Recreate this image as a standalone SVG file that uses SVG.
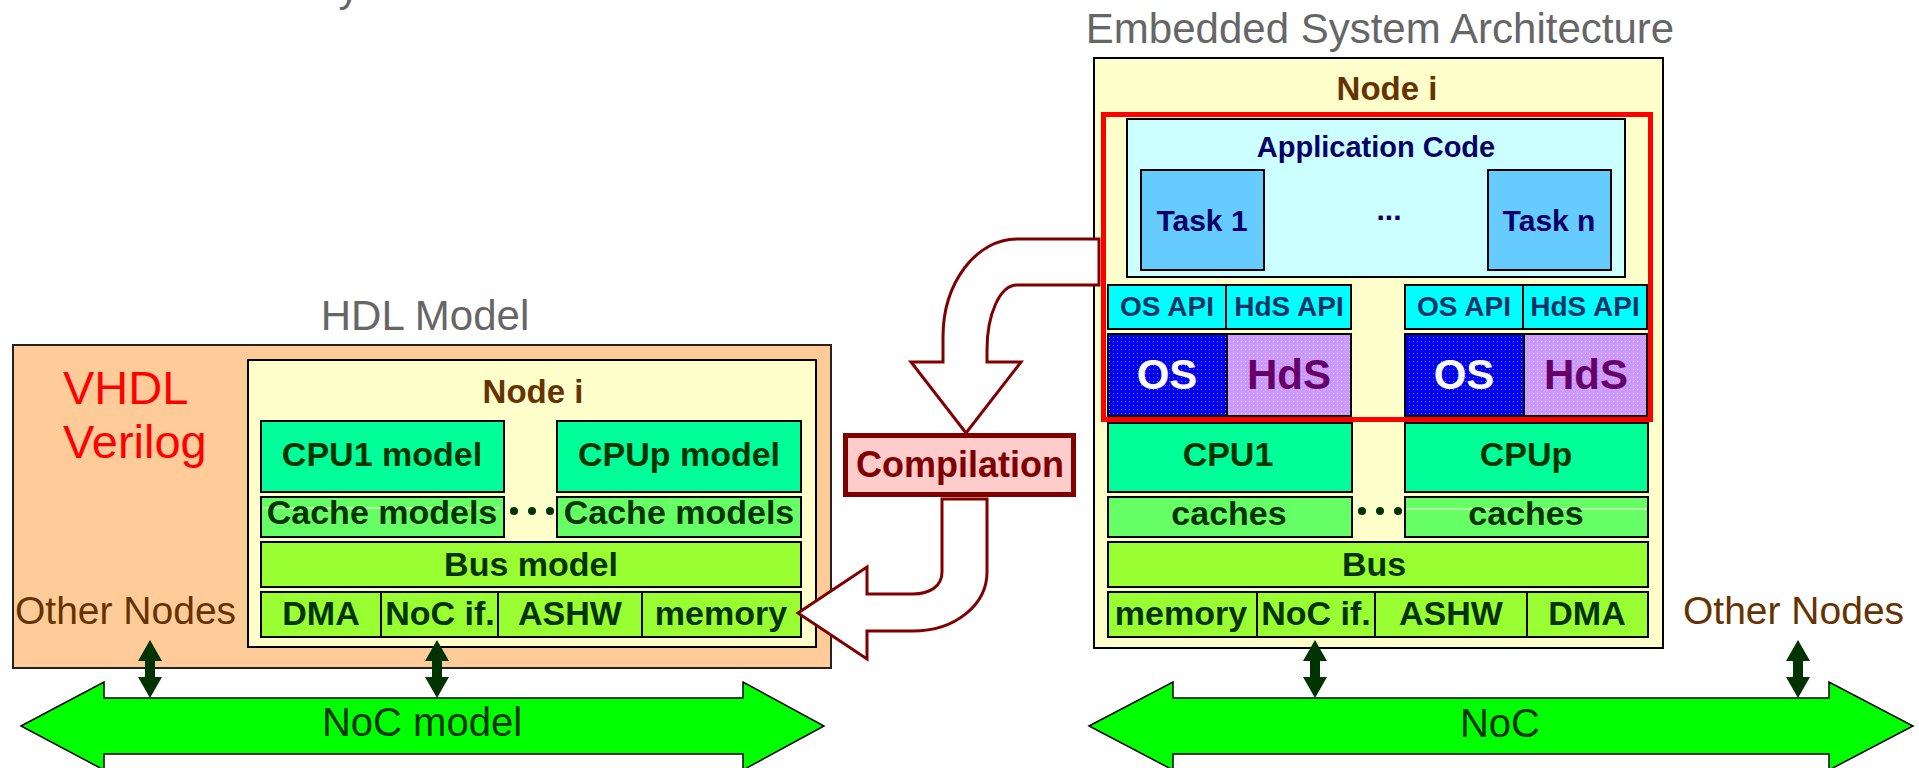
<svg xmlns="http://www.w3.org/2000/svg" width="1919" height="768" viewBox="0 0 1919 768">
  <defs>
    <pattern id="dotBlue" width="4" height="4" patternUnits="userSpaceOnUse">
      <rect width="4" height="4" fill="#0000f0"/>
      <rect x="1" y="1" width="1" height="1" fill="#7777ff"/>
    </pattern>
    <pattern id="dotLilac" width="4" height="4" patternUnits="userSpaceOnUse">
      <rect width="4" height="4" fill="#cc99ff"/>
      <rect x="1" y="1" width="1" height="1" fill="#e2c6ff"/>
    </pattern>
    <style>
      text { font-family: "Liberation Sans", Arial, sans-serif; text-anchor: middle; }
      .title { font-size: 42px; fill: #666666; }
      .lang { font-size: 47px; fill: #ff0000; text-anchor: start; }
      .other { font-size: 39px; fill: #663300; text-anchor: start; }
      .node { font-size: 33px; font-weight: bold; fill: #663300; }
      .lbl { font-size: 34px; font-weight: bold; fill: #003300; }
      .app { font-size: 29px; font-weight: bold; fill: #000066; }
      .task { font-size: 30px; font-weight: bold; fill: #000066; }
      .api { font-size: 28px; font-weight: bold; fill: #003366; }
      .os { font-size: 42px; font-weight: bold; fill: #ffffff; }
      .hds { font-size: 42px; font-weight: bold; fill: #660066; }
      .noc { font-size: 40px; fill: #003300; }
      .comp { font-size: 36px; font-weight: bold; fill: #800000; }
      .box { stroke: #000000; stroke-width: 2; }
      .cpu { fill: #00ff99; }
      .cache { fill: #66ff66; }
      .bus { fill: #99ff33; }
      .bus-arrow { fill: #00ff00; stroke: #000000; stroke-width: 1.5; stroke-linejoin: miter; }
      .link { fill: #003300; }
      .flow { fill: #ffffff; stroke: #800000; stroke-width: 3; stroke-linejoin: miter; }
      .dot { fill: #003300; }
      .glint { stroke: #ffffcc; stroke-width: 1; }
    </style>
  </defs>

  <rect width="1919" height="768" fill="#ffffff"/>

  <!-- heading line running off the top edge -->
  <text class="title" x="349" y="1">y</text>

  <!-- ================= HDL model side ================= -->
  <g id="hdl-model">
    <text class="title" x="425" y="330">HDL Model</text>
    <rect x="13" y="345" width="818" height="323" fill="#ffcc99" stroke="#222222" stroke-width="2"/>
    <text class="lang" x="63" y="404">VHDL</text>
    <text class="lang" x="63" y="458">Verilog</text>
    <text class="other" x="15" y="624">Other Nodes</text>
  </g>

  <g id="hdl-node">
    <rect x="248" y="360" width="568" height="287" fill="#ffffcc" class="box"/>
    <text class="node" x="533" y="403">Node i</text>

    <rect x="261" y="421" width="243" height="71" class="box cpu"/>
    <text class="lbl" x="382" y="466">CPU1 model</text>
    <rect x="557" y="421" width="244" height="71" class="box cpu"/>
    <text class="lbl" x="679" y="466">CPUp model</text>

    <rect x="261" y="497" width="243" height="40" class="box cache"/>
    <line x1="263" y1="508" x2="500" y2="508" class="glint"/>
    <text class="lbl" x="382" y="524">Cache models</text>
    <rect x="557" y="497" width="244" height="40" class="box cache"/>
    <text class="lbl" x="679" y="524">Cache models</text>
    <circle cx="514" cy="511" r="4" class="dot"/>
    <circle cx="532" cy="511" r="4" class="dot"/>
    <circle cx="550" cy="511" r="4" class="dot"/>

    <rect x="261" y="542" width="540" height="45" class="box bus"/>
    <text class="lbl" x="531" y="576">Bus model</text>

    <rect x="261" y="592" width="540" height="45" class="box bus"/>
    <line x1="381" y1="592" x2="381" y2="637" class="box"/>
    <line x1="498" y1="592" x2="498" y2="637" class="box"/>
    <line x1="642" y1="592" x2="642" y2="637" class="box"/>
    <text class="lbl" x="321" y="625">DMA</text>
    <text class="lbl" x="440" y="625">NoC if.</text>
    <text class="lbl" x="570" y="625">ASHW</text>
    <text class="lbl" x="721" y="625">memory</text>
  </g>

  <g id="noc-model">
    <path class="bus-arrow" d="M21 726 L104 682 L104 698 L743 698 L743 682 L824 726 L743 770 L743 754 L104 754 L104 770 Z"/>
    <text class="noc" x="422" y="736">NoC model</text>
  </g>

  <!-- ================= Embedded system side ================= -->
  <g id="embedded-node">
    <text class="title" x="1380" y="43">Embedded System Architecture</text>
    <rect x="1094" y="58" width="569" height="590" fill="#ffffcc" class="box"/>
    <text class="node" x="1387" y="100">Node i</text>

    <!-- software stack -->
    <rect x="1127" y="119" width="498" height="158" fill="#ccffff" class="box"/>
    <text class="app" x="1376" y="157">Application Code</text>
    <rect x="1141" y="170" width="123" height="100" fill="#66ccff" class="box"/>
    <text class="task" x="1202" y="231">Task 1</text>
    <text class="task" x="1389" y="220">...</text>
    <rect x="1488" y="170" width="123" height="100" fill="#66ccff" class="box"/>
    <text class="task" x="1549" y="231">Task n</text>

    <rect x="1108" y="285" width="243" height="44" fill="#00ffff" class="box"/>
    <line x1="1226" y1="285" x2="1226" y2="329" class="box"/>
    <text class="api" x="1167" y="316">OS API</text>
    <text class="api" x="1289" y="316">HdS API</text>
    <rect x="1405" y="285" width="242" height="44" fill="#00ffff" class="box"/>
    <line x1="1523" y1="285" x2="1523" y2="329" class="box"/>
    <text class="api" x="1464" y="316">OS API</text>
    <text class="api" x="1585" y="316">HdS API</text>

    <rect x="1108" y="334" width="119" height="82" fill="url(#dotBlue)" class="box"/>
    <rect x="1227" y="334" width="124" height="82" fill="url(#dotLilac)" class="box"/>
    <text class="os" x="1167" y="389">OS</text>
    <text class="hds" x="1289" y="389">HdS</text>
    <rect x="1405" y="334" width="119" height="82" fill="url(#dotBlue)" class="box"/>
    <rect x="1524" y="334" width="123" height="82" fill="url(#dotLilac)" class="box"/>
    <text class="os" x="1464" y="389">OS</text>
    <text class="hds" x="1586" y="389">HdS</text>

    <!-- hardware -->
    <rect x="1108" y="423" width="244" height="69" class="box cpu"/>
    <text class="lbl" x="1228" y="466">CPU1</text>
    <rect x="1405" y="423" width="243" height="69" class="box cpu"/>
    <text class="lbl" x="1526" y="466">CPUp</text>

    <rect x="1108" y="497" width="244" height="40" class="box cache"/>
    <text class="lbl" x="1229" y="525">caches</text>
    <rect x="1405" y="497" width="243" height="40" class="box cache"/>
    <line x1="1406" y1="509" x2="1647" y2="509" class="glint"/>
    <text class="lbl" x="1526" y="525">caches</text>
    <circle cx="1362" cy="511" r="4" class="dot"/>
    <circle cx="1380" cy="511" r="4" class="dot"/>
    <circle cx="1398" cy="511" r="4" class="dot"/>

    <rect x="1108" y="542" width="540" height="45" class="box bus"/>
    <text class="lbl" x="1374" y="576">Bus</text>

    <rect x="1108" y="592" width="540" height="45" class="box bus"/>
    <line x1="1257" y1="592" x2="1257" y2="637" class="box"/>
    <line x1="1375" y1="592" x2="1375" y2="637" class="box"/>
    <line x1="1527" y1="592" x2="1527" y2="637" class="box"/>
    <text class="lbl" x="1181" y="625">memory</text>
    <text class="lbl" x="1316" y="625">NoC if.</text>
    <text class="lbl" x="1451" y="625">ASHW</text>
    <text class="lbl" x="1587" y="625">DMA</text>
  </g>

  <g id="right-other-nodes">
    <text class="other" x="1683" y="624">Other Nodes</text>
  </g>

  <g id="noc">
    <path class="bus-arrow" d="M1089 726 L1173 682 L1173 698 L1829 698 L1829 682 L1913 726 L1829 770 L1829 754 L1173 754 L1173 770 Z"/>
    <text class="noc" x="1500" y="737">NoC</text>
  </g>

  <g id="compilation">
    <rect x="845.5" y="435.5" width="228" height="59" fill="#ffcccc" stroke="#800000" stroke-width="5"/>
    <text class="comp" x="960" y="477">Compilation</text>
  </g>

  <!-- ================= connectors ================= -->
  <g id="connectors">
    <!-- software stack into the compiler -->
    <path class="flow" d="M1099 239 L1017 239 C976 239 943 283 943 337 L943 362 L911 362 L966 433 L1021 362 L987 362 L987 350 C987 314 1000 285 1017 285 L1099 285 Z"/>
    <!-- compiled image back into the HDL memory -->
    <path class="flow" d="M942 499 L987 499 L987 572 C987 605 955 631 913 631 L867 631 L867 659 L798 613 L867 567 L867 594 L913 594 C930 594 942 586 942 572 Z"/>

    <!-- node / NoC links -->
    <path class="link" d="M150 640 L162 661 L155 661 L155 677 L162 677 L150 698 L138 677 L145 677 L145 661 L138 661 Z"/>
    <path class="link" d="M437 640 L449 661 L442 661 L442 677 L449 677 L437 698 L425 677 L432 677 L432 661 L425 661 Z"/>
    <path class="link" d="M1315 640 L1327 661 L1320 661 L1320 677 L1327 677 L1315 698 L1303 677 L1310 677 L1310 661 L1303 661 Z"/>
    <path class="link" d="M1798 640 L1810 661 L1803 661 L1803 677 L1810 677 L1798 698 L1786 677 L1793 677 L1793 661 L1786 661 Z"/>
  </g>

  <!-- selection frame around the software part of the node -->
  <rect id="software-frame" x="1103.5" y="114.5" width="547" height="305" fill="none" stroke="#ff0000" stroke-width="5"/>
</svg>
